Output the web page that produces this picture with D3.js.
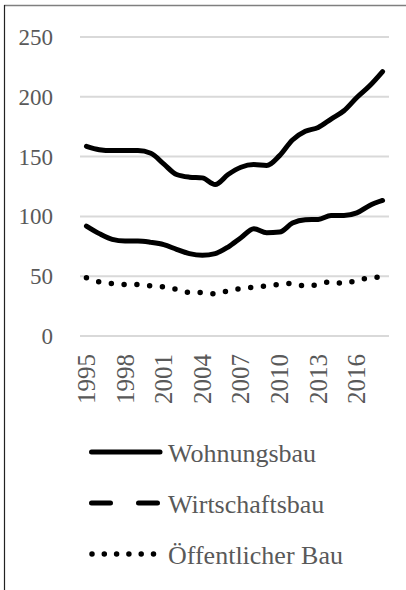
<!DOCTYPE html>
<html>
<head>
<meta charset="utf-8">
<script src="https://cdn.jsdelivr.net/npm/d3@7"></script>
<style>
  body { margin: 0; background: #fff; }
  svg { display: block; }
</style>
</head>
<body>
<svg class="chart"></svg>
<script>
let years = d3.range(1995, 2019);
let wohnungsbau = [158.6, 155.8, 155, 155, 155, 152.8, 143.9, 135, 132.8, 132.2, 126.7, 135,
    141.1, 143.3, 142.5, 150.8, 163.9, 171.1, 174.4, 181.4, 188.3, 199.4, 209.2, 221.1];
let wirtschaftsbau = [91.9, 85.6, 80.8, 79.4, 79.4, 78.3, 76.4, 72.5, 68.9, 67.5, 68.9, 74.4,
    82.2, 89.7, 86.4, 86.9, 94.4, 97.2, 97.5, 100.8, 100.8, 103, 109.2, 113.3];
let oeffentlich = [48.6, 45.3, 43.9, 43.1, 43.1, 41.9, 41.1, 38.9, 36.4, 36.4, 35.3, 37.8,
    39.7, 40.8, 41.9, 43.1, 43.9, 41.7, 43.1, 45.3, 43.9, 46.7, 48.6, 49.4];
let seriesNames = ['Wohnungsbau', 'Wirtschaftsbau', 'Öffentlicher Bau'];
let yTicks = [0, 50, 100, 150, 200, 250];
let xTickYears = [1995, 1998, 2001, 2004, 2007, 2010, 2013, 2016];

let svgWidth = 406, svgHeight = 590;
let font = '"Liberation Serif", serif';

let svg = d3.select('.chart')
    .attr('width', svgWidth)
    .attr('height', svgHeight);

// frame (top + left only)
svg.append('line').attr('x1', 4).attr('x2', 406).attr('y1', 5.5).attr('y2', 5.5)
    .attr('stroke', '#7f7f7f').attr('stroke-width', 1.5);
svg.append('line').attr('x1', 4.5).attr('x2', 4.5).attr('y1', 5).attr('y2', 590)
    .attr('stroke', '#222').attr('stroke-width', 1.2);

let x = d3.scaleBand().domain(years).range([80, 389]);
let y = d3.scaleLinear().domain([0, 250]).range([336, 37]);

// gridlines
svg.append('g').selectAll('line')
    .data(yTicks)
    .enter()
    .append('line')
    .attr('x1', 80).attr('x2', 389)
    .attr('y1', d => y(d)).attr('y2', d => y(d))
    .attr('stroke', '#d9d9d9').attr('stroke-width', 2);

// y labels
svg.append('g').selectAll('text')
    .data(yTicks)
    .enter()
    .append('text')
    .attr('x', 53)
    .attr('y', d => y(d) + 8)
    .attr('text-anchor', 'end')
    .attr('font-family', font)
    .attr('font-size', 23)
    .attr('fill', '#595959')
    .text(d => d);

// x labels
svg.append('g').selectAll('text')
    .data(xTickYears)
    .enter()
    .append('text')
    .attr('transform', d => 'translate(' + (x(d) + x.bandwidth() / 2 + 8.5) + ',354) rotate(-90)')
    .attr('text-anchor', 'end')
    .attr('font-family', font)
    .attr('font-size', 25)
    .attr('fill', '#595959')
    .text(d => d);

let line = d3.line()
    .x((d, i) => x(years[i]) + x.bandwidth() / 2)
    .y(d => y(d))
    .curve(d3.curveMonotoneX);

svg.append('path').attr('d', line(wohnungsbau))
    .attr('fill', 'none').attr('stroke', '#000').attr('stroke-width', 5)
    .attr('stroke-linecap', 'round').attr('stroke-linejoin', 'round');
svg.append('path').attr('d', line(wirtschaftsbau))
    .attr('fill', 'none').attr('stroke', '#000').attr('stroke-width', 5)
    .attr('stroke-linecap', 'round').attr('stroke-linejoin', 'round');
svg.append('path').attr('d', line(oeffentlich))
    .attr('fill', 'none').attr('stroke', '#000').attr('stroke-width', 5.5)
    .attr('stroke-dasharray', '0 12.8')
    .attr('stroke-linecap', 'round');

// legend
let dashes = [null, '19 28', '0 12.3'];
let legend = svg.append('g').selectAll('g')
    .data(seriesNames)
    .enter()
    .append('g')
    .attr('transform', (d, i) => 'translate(0,' + (452 + i * 51) + ')');

legend.append('line')
    .attr('x1', (d, i) => i == 2 ? 92 : 91.5)
    .attr('x2', 160)
    .attr('stroke', '#000').attr('stroke-width', (d, i) => i == 2 ? 5.5 : 5)
    .attr('stroke-linecap', 'round')
    .attr('stroke-dasharray', (d, i) => dashes[i]);

legend.append('text')
    .attr('x', 168)
    .attr('y', 10)
    .attr('font-family', font)
    .attr('font-size', 26)
    .attr('fill', '#595959')
    .text(d => d);
</script>
</body>
</html>
